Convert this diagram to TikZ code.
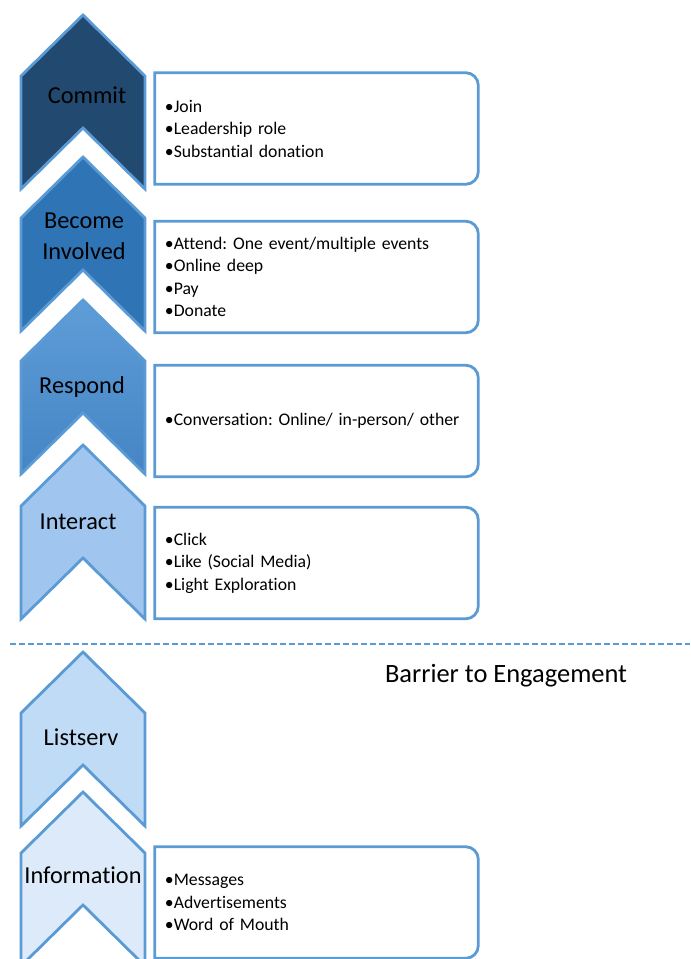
\documentclass[tikz,border=0pt]{standalone}
\usepackage{fontspec}
\setmainfont{Carlito}[Ligatures=NoCommon]
\frenchspacing
\definecolor{edgeblue}{HTML}{5B9BD5}
\definecolor{commitblue}{HTML}{22496F}
\definecolor{involvedblue}{HTML}{2F74B5}
\definecolor{respondtop}{HTML}{5E9DD8}
\definecolor{respondbot}{HTML}{4585C4}
\definecolor{interactblue}{HTML}{A0C6EF}
\definecolor{listservblue}{HTML}{BFDBF6}
\definecolor{infoblue}{HTML}{DDEAF9}

\begin{document}
\begin{tikzpicture}[x=0.025cm,y=-0.025cm,
 chev/.style={draw=edgeblue,line width=2pt,line join=miter},
 commitfill/.style={fill=commitblue},
 involvedfill/.style={fill=involvedblue},
 respondfill/.style={top color=respondtop,bottom color=respondbot},
 interactfill/.style={fill=interactblue},
 listservfill/.style={fill=listservblue},
 infofill/.style={fill=infoblue},
 lab/.style={inner sep=0pt,align=center,font=\fontsize{17.3}{22}\selectfont},
 items/.style={text width=7.575cm,minimum height=2.775cm,inner xsep=0.25cm,inner ysep=0pt,align=left,font=\fontsize{12.6}{16}\selectfont},
 frame/.style={draw=edgeblue,line width=2pt,rounded corners=9pt,line cap=rect},
 barrier/.style={draw=edgeblue,line width=2.1pt,dash pattern=on 4.3pt off 2.1pt}]
\useasboundingbox (0,0) rectangle (690,959);
\clip (0,0) rectangle (690,959);

% stacked chevrons, apex height and fill
\foreach \ya/\st in {15/commitfill,157/involvedfill,300/respondfill,445/interactfill,652/listservfill,792/infofill}{
  \draw[chev,\st] (21,\ya+61) -- (83,\ya) -- (145,\ya+61) -- (145,\ya+174) -- (83,\ya+113) -- (21,\ya+174) -- cycle;
}
\node[lab] (commit) at (87,95) {Commit};
\node[lab] (involved) at (84,236) {Become\\Involved};
\node[lab] (respond) at (82,387) {Respond};
\node[lab] (interact) at (78,522) {Interact};
\node[lab] (listserv) at (81,737) {Listserv};
\node[lab] (information) at (83,875) {Information};

% activity lists
\node[items] (commitlist) at (316.5,128.5) {•Join\\•Leadership role\\•Substantial donation};
\node[items] (involvedlist) at (316.5,277) {•Attend: One event/multiple events\\•Online deep\\•Pay\\•Donate};
\node[items] (respondlist) at (316.5,421) {•Conversation: Online/ in-person/ other};
\node[items] (interactlist) at (316.5,563) {•Click\\•Like (Social Media)\\•Light Exploration};
\node[items] (informationlist) at (316.5,902.5) {•Messages\\•Advertisements\\•Word of Mouth};
\foreach \b in {commitlist,involvedlist,respondlist,interactlist,informationlist}{
  \draw[frame] (\b.north west) -- (\b.north east) -- (\b.south east) -- (\b.south west) (\b.south west) -- (\b.north west);
}

% engagement barrier
\draw[barrier] (10,644) -- (690,644);
\node[font=\fontsize{18.8}{22}\selectfont] (barriertext) at (506,676) {Barrier to Engagement};
\end{tikzpicture}
\end{document}
